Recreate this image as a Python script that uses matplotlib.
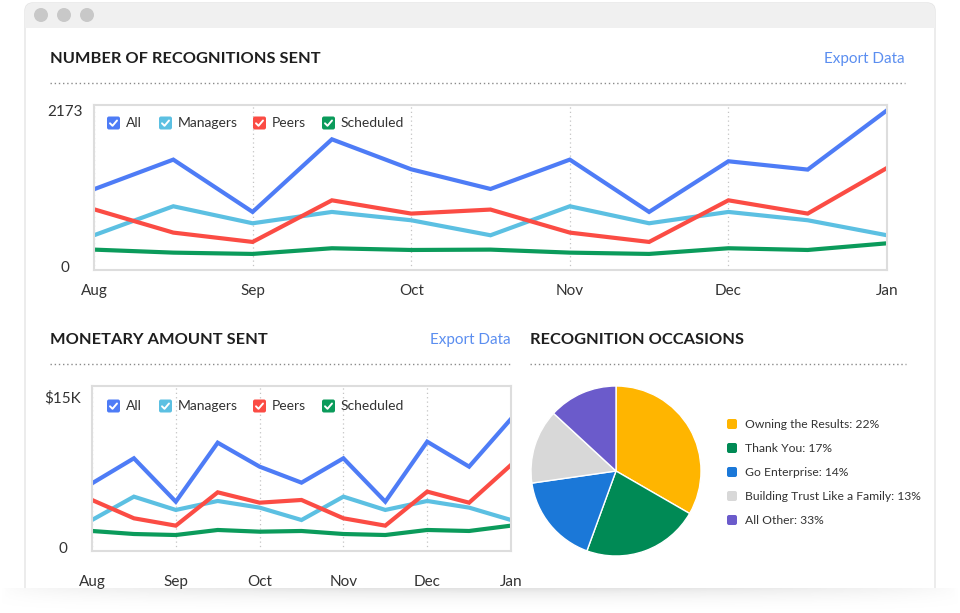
import numpy as np
import matplotlib.pyplot as plt
from matplotlib.patches import FancyBboxPatch, Circle, Rectangle

plt.rcParams['font.family'] = ['Lato', 'DejaVu Sans']

months = ['Aug', 'Sep', 'Oct', 'Nov', 'Dec', 'Jan']
series = ['All', 'Managers', 'Peers', 'Scheduled']
colors = ['#4e7cf6', '#5cc0e2', '#fb4c44', '#0b9b5b']

# half-month points, Aug .. Jan
count_all = [1073, 1486, 757, 1769, 1351, 1077, 1486, 757, 1463, 1347, 2173]
count_managers = [432, 836, 599, 757, 641, 432, 836, 599, 757, 641, 432]
count_peers = [794, 469, 339, 919, 734, 790, 469, 339, 919, 734, 1370]
count_scheduled = [232, 190, 172, 251, 227, 232, 190, 172, 251, 227, 320]

money_all = [6420, 8910, 4600, 10460, 8080, 6490, 8910, 4600, 10560, 8080, 12820]
money_managers = [2780, 5100, 3780, 4670, 4010, 2780, 5100, 3780, 4670, 4010, 2780]
money_peers = [4770, 2950, 2220, 5530, 4500, 4770, 2950, 2220, 5600, 4500, 8250]
money_scheduled = [1690, 1390, 1290, 1790, 1620, 1690, 1390, 1290, 1790, 1690, 2220]

occasion_labels = ['Owning the Results: 22%', 'Thank You: 17%', 'Go Enterprise: 14%',
                   'Building Trust Like a Family: 13%', 'All Other: 33%']
occasion_sizes = [33, 22, 17, 14, 13]
occasion_colors = ['#ffb500', '#008a55', '#1b78d8', '#d8d8d8', '#6b5bcb']

W, H = 960, 613
fig = plt.figure(figsize=(9.6, 6.13), dpi=100)

# background / browser window, pixel coords
bg = fig.add_axes([0, 0, 1, 1], zorder=0)
bg.set_xlim(0, W)
bg.set_ylim(H, 0)
bg.axis('off')
bg.add_patch(FancyBboxPatch((25, 3), 910, 640, boxstyle='round,pad=0,rounding_size=8',
                            fc='white', ec='#e4e4e4', lw=1))
bg.add_patch(FancyBboxPatch((25, 3), 910, 25, boxstyle='round,pad=0,rounding_size=8',
                            fc='#f0f0f0', ec='none'))
bg.add_patch(Rectangle((25, 18), 910, 10, fc='#f0f0f0', ec='none'))
for cx in [41, 64, 87]:
    bg.add_patch(Circle((cx, 15), 7, fc='#c8c8c8', ec='none'))
# soft shadow at the bottom
grad = np.linspace(0, 1, 30)[:, None] ** 2 * np.sin(np.linspace(0, np.pi, 200))[None, :] ** 0.5
bg.imshow(grad, extent=[0, W, 588, H], cmap='Greys', vmin=0, vmax=5, aspect='auto', zorder=2)

ov = fig.add_axes([0, 0, 1, 1], zorder=10)
ov.set_xlim(0, W)
ov.set_ylim(H, 0)
ov.axis('off')
ov.patch.set_alpha(0)


def header(x0, x1, y, title, export=True):
    ov.text(x0, y, title, fontsize=11.8, fontweight='bold', color='#1e1e1e', va='center', ha='left')
    if export:
        ov.text(x1, y, 'Export Data', fontsize=11, color='#5b8ef0', va='center', ha='right')
    ov.plot([x0, x1], [y + 24, y + 24], ls=(0, (1, 2)), color='#8a8a8a', lw=1)


def checkboxes(y):
    box_x = [107, 159, 253, 322]
    for name, c, bx in zip(series, colors, box_x):
        ov.add_patch(FancyBboxPatch((bx, y - 6.5), 13, 13, boxstyle='round,pad=0,rounding_size=2',
                                    fc=c, ec='none'))
        cx, cy = bx + 6.5, y
        ov.plot([cx - 3.5, cx - 1, cx + 3.5], [cy + 0.3, cy + 2.8, cy - 2.5], color='white', lw=1.4,
                solid_capstyle='round', solid_joinstyle='round')
        ov.text(bx + 19, y, name, fontsize=10, color='#333333', va='center', ha='left')


def line_chart(px, data, ylim, ytick, ylabel, xpad):
    l, t, r, b = px
    ax = fig.add_axes([l / W, 1 - b / H, (r - l) / W, (b - t) / H], zorder=5)
    x = np.arange(len(data[0])) / 2
    for vals, c in zip(data, colors):
        ax.plot(x, vals, color=c, lw=3, solid_joinstyle='miter')
    ax.set_xlim(0, 5)
    ax.set_ylim(*ylim)
    ax.set_xticks(range(len(months)))
    ax.set_xticklabels(months)
    ax.set_yticks([0, ytick])
    ax.set_yticklabels(['0', ylabel], ha='center')
    ax.tick_params(axis='x', length=0, pad=xpad, labelsize=11, labelcolor='#333333')
    ax.tick_params(axis='y', length=0, pad=21, labelsize=11, labelcolor='#333333')
    ax.grid(axis='x', ls=(0, (1, 2.5)), color='#c4c4c4', lw=0.9)
    for s in ax.spines.values():
        s.set_color('#dddddd')
        s.set_linewidth(1.5)
    return ax


header(50, 905, 59, 'NUMBER OF RECOGNITIONS SENT')
line_chart((94, 105, 887, 270), [count_all, count_managers, count_peers, count_scheduled],
           (-52, 2247), 2173, '2173', 10)
checkboxes(123)

header(50, 511, 340, 'MONETARY AMOUNT SENT')
line_chart((92, 386, 511, 551), [money_all, money_managers, money_peers, money_scheduled],
           (-298, 16090), 15000, '$15K', 17)
checkboxes(406)

header(530, 906, 340, 'RECOGNITION OCCASIONS', export=False)
pa = fig.add_axes([531 / W, 1 - 556 / H, 170 / W, 170 / H], zorder=5)
pa.pie(occasion_sizes, colors=occasion_colors, startangle=90, counterclock=False,
       wedgeprops=dict(edgecolor='white', linewidth=1))
pa.set_xlim(-1, 1)
pa.set_ylim(-1, 1)
pa.set_aspect('equal')

for i, (lab, c) in enumerate(zip(occasion_labels, occasion_colors)):
    y = 424 + i * 24
    ov.add_patch(FancyBboxPatch((727, y - 5), 10, 10, boxstyle='round,pad=0,rounding_size=2',
                                fc=c, ec='none'))
    ov.text(745, y, lab, fontsize=8.7, color='#333333', va='center', ha='left')

fig.savefig('out.png', dpi=100)
